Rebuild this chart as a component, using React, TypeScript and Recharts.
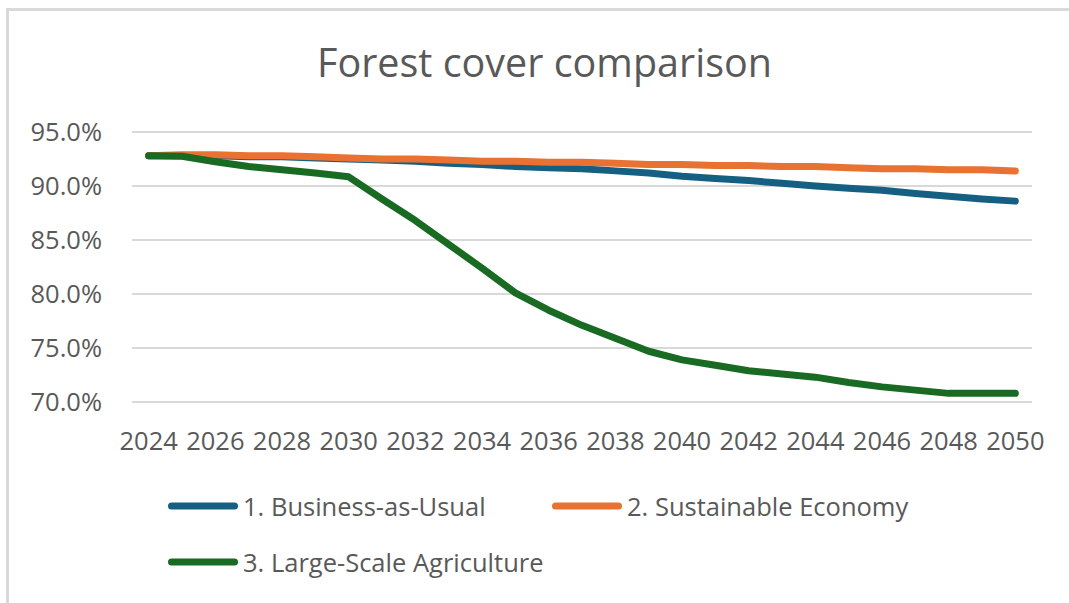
import React from "react";
import { LineChart, Line, XAxis, YAxis, CartesianGrid } from "recharts";

const years = [
  2024, 2025, 2026, 2027, 2028, 2029, 2030, 2031, 2032, 2033, 2034, 2035, 2036, 2037,
  2038, 2039, 2040, 2041, 2042, 2043, 2044, 2045, 2046, 2047, 2048, 2049, 2050,
];

const businessAsUsual = [
  92.8, 92.8, 92.8, 92.7, 92.7, 92.6, 92.5, 92.4, 92.3, 92.1, 92.0, 91.8, 91.7, 91.6,
  91.4, 91.2, 90.9, 90.7, 90.5, 90.25, 90.0, 89.8, 89.6, 89.3, 89.05, 88.8, 88.6,
];

const sustainableEconomy = [
  92.8, 92.9, 92.9, 92.8, 92.8, 92.7, 92.6, 92.5, 92.5, 92.4, 92.3, 92.3, 92.2, 92.2,
  92.1, 92.0, 92.0, 91.9, 91.9, 91.8, 91.8, 91.7, 91.6, 91.6, 91.5, 91.5, 91.4,
];

const largeScaleAgriculture = [
  92.8, 92.75, 92.25, 91.8, 91.5, 91.2, 90.85, 88.8, 86.8, 84.6, 82.4, 80.1, 78.5, 77.1,
  75.9, 74.7, 73.9, 73.4, 72.9, 72.6, 72.3, 71.8, 71.4, 71.1, 70.8, 70.8, 70.8,
];

const yearTicks = [2024, 2026, 2028, 2030, 2032, 2034, 2036, 2038, 2040, 2042, 2044, 2046, 2048, 2050];
const percentTicks = [70, 75, 80, 85, 90, 95];

const series = [
  { key: "bau", name: "1. Business-as-Usual", color: "#156082" },
  { key: "sustainable", name: "2. Sustainable Economy", color: "#E97132" },
  { key: "agriculture", name: "3. Large-Scale Agriculture", color: "#196B24" },
];

const data = years.map((year, i) => ({
  year,
  bau: businessAsUsual[i],
  sustainable: sustainableEconomy[i],
  agriculture: largeScaleAgriculture[i],
}));

const FONT = "'Open Sans', sans-serif";
const TEXT_COLOR = "#595959";
const TICK_STYLE = { fill: TEXT_COLOR, fontSize: 25.5, fontFamily: FONT };

const LegendItem = ({ name, color }: { name: string; color: string }) => (
  <div style={{ display: "flex", alignItems: "center", width: 384, height: 56 }}>
    <svg width={70} height={10}>
      <line x1={3.5} y1={5} x2={66.5} y2={5} stroke={color} strokeWidth={7} strokeLinecap="round" />
    </svg>
    <span style={{ marginLeft: 5, color: TEXT_COLOR, fontSize: 25.5, fontFamily: FONT, whiteSpace: "nowrap" }}>
      {name}
    </span>
  </div>
);

const App: React.FC = () => {
  return (
    <div style={{ position: "absolute", left: 0, top: 0, width: 1069, height: 603, background: "#fff", overflow: "hidden" }}>
      {/* chart area frame */}
      <div
        style={{
          position: "absolute",
          left: 6,
          top: 8,
          right: 0,
          bottom: 0,
          borderTop: "3px solid #d9d9d9",
          borderLeft: "3px solid #d9d9d9",
        }}
      />

      <div
        style={{
          position: "absolute",
          left: 0,
          top: 34,
          width: 1089,
          textAlign: "center",
          color: TEXT_COLOR,
          fontFamily: FONT,
          fontSize: 39.5,
          lineHeight: "56px",
        }}
      >
        Forest cover comparison
      </div>

      <LineChart
        width={1069}
        height={603}
        data={data}
        margin={{ top: 132, right: 37, bottom: 141, left: 0 }}
        style={{ position: "absolute", left: 0, top: 0 }}
      >
        <CartesianGrid vertical={false} stroke="#d9d9d9" strokeWidth={2} />
        <XAxis
          dataKey="year"
          type="number"
          domain={[2023.5, 2050.5]}
          ticks={yearTicks}
          interval={0}
          height={60}
          axisLine={false}
          tickLine={false}
          tickSize={0}
          tickMargin={30}
          tick={TICK_STYLE}
        />
        <YAxis
          domain={[70, 95]}
          ticks={percentTicks}
          tickFormatter={(v: number) => `${v.toFixed(1)}%`}
          width={132}
          axisLine={false}
          tickLine={false}
          tickSize={0}
          tickMargin={30}
          tick={TICK_STYLE}
        />
        {series.map((s) => (
          <Line
            key={s.key}
            type="linear"
            dataKey={s.key}
            name={s.name}
            stroke={s.color}
            strokeWidth={7}
            strokeLinecap="round"
            strokeLinejoin="round"
            dot={false}
            activeDot={false}
            isAnimationActive={false}
          />
        ))}
      </LineChart>

      <div style={{ position: "absolute", left: 168, top: 478, width: 800, display: "flex", flexWrap: "wrap" }}>
        {series.map((s) => (
          <LegendItem key={s.key} name={s.name} color={s.color} />
        ))}
      </div>
    </div>
  );
};

export default App;
